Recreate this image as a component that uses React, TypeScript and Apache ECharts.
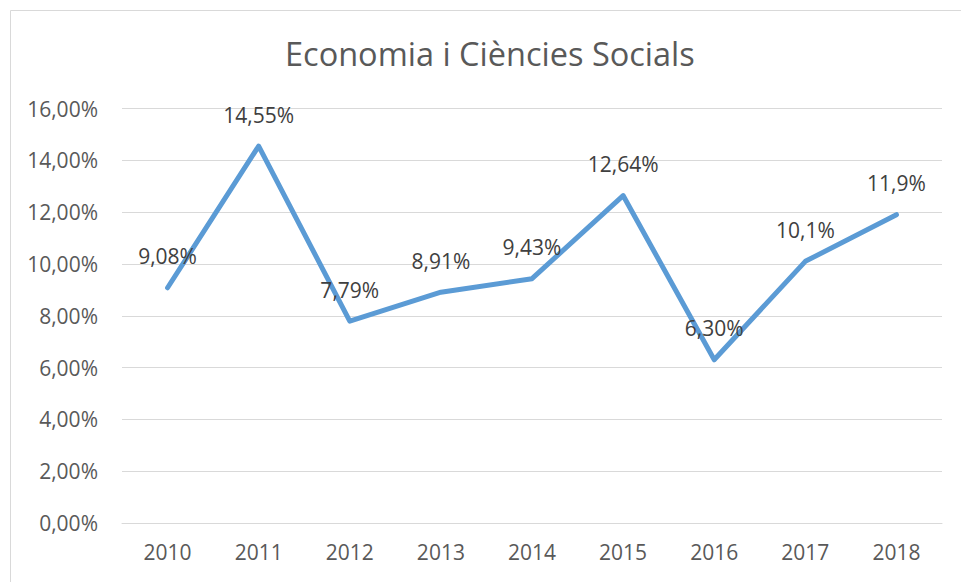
import React, { useEffect, useRef } from "react";
import * as echarts from "echarts";

const titleText = "Economia i Ciències Socials";
const years = ["2010", "2011", "2012", "2013", "2014", "2015", "2016", "2017", "2018"];
const rates = [9.08, 14.55, 7.79, 8.91, 9.43, 12.64, 6.3, 10.1, 11.9];
const rateLabels = ["9,08%", "14,55%", "7,79%", "8,91%", "9,43%", "12,64%", "6,30%", "10,1%", "11,9%"];

export default function App() {
  const ref = useRef<HTMLDivElement>(null);
  useEffect(() => {
    document.body.style.margin = "0";
    if (!ref.current) return;
    const chart = echarts.init(ref.current, null, { renderer: "svg" });
    chart.setOption({
      animation: false,
      backgroundColor: "#ffffff",
      textStyle: { fontFamily: "Open Sans" },
      graphic: [
        {
          type: "rect",
          shape: { x: 10.5, y: 10.5, width: 1000, height: 1000 },
          style: { fill: "none", stroke: "#D9D9D9", lineWidth: 1 },
          silent: true,
        },
      ],
      title: {
        text: titleText,
        left: 280,
        top: 32,
        textStyle: { fontFamily: "Open Sans", fontSize: 32.5, fontWeight: "normal", color: "#595959" },
      },
      grid: { left: 122, right: 19, top: 108.5, bottom: 59, containLabel: false },
      xAxis: {
        type: "category",
        data: years,
        boundaryGap: true,
        axisLine: { show: true, lineStyle: { color: "#D9D9D9", width: 1 } },
        axisTick: { show: false },
        axisLabel: { color: "#595959", fontSize: 21, margin: 18, fontFamily: "Open Sans" },
        splitLine: { show: false },
      },
      yAxis: {
        type: "value",
        min: 0,
        max: 16,
        interval: 2,
        axisLine: { show: false },
        axisTick: { show: false },
        axisLabel: {
          color: "#595959",
          fontSize: 21,
          margin: 24,
          fontFamily: "Open Sans",
          formatter: (v: number) => v.toFixed(2).replace(".", ",") + "%",
        },
        splitLine: { show: true, lineStyle: { color: "#D9D9D9", width: 1 } },
      },
      series: [
        {
          type: "line",
          data: rates,
          showSymbol: true,
          symbol: "circle",
          symbolSize: 0,
          lineStyle: { color: "#5B9BD5", width: 5, cap: "round", join: "round" },
          itemStyle: { color: "#5B9BD5" },
          label: {
            show: true,
            position: "top",
            distance: 21,
            color: "#404040",
            fontSize: 21,
            fontFamily: "Open Sans",
            formatter: (p: any) => rateLabels[p.dataIndex],
          },
        },
      ],
    });
    return () => chart.dispose();
  }, []);
  return <div ref={ref} style={{ width: 961, height: 582 }} />;
}
